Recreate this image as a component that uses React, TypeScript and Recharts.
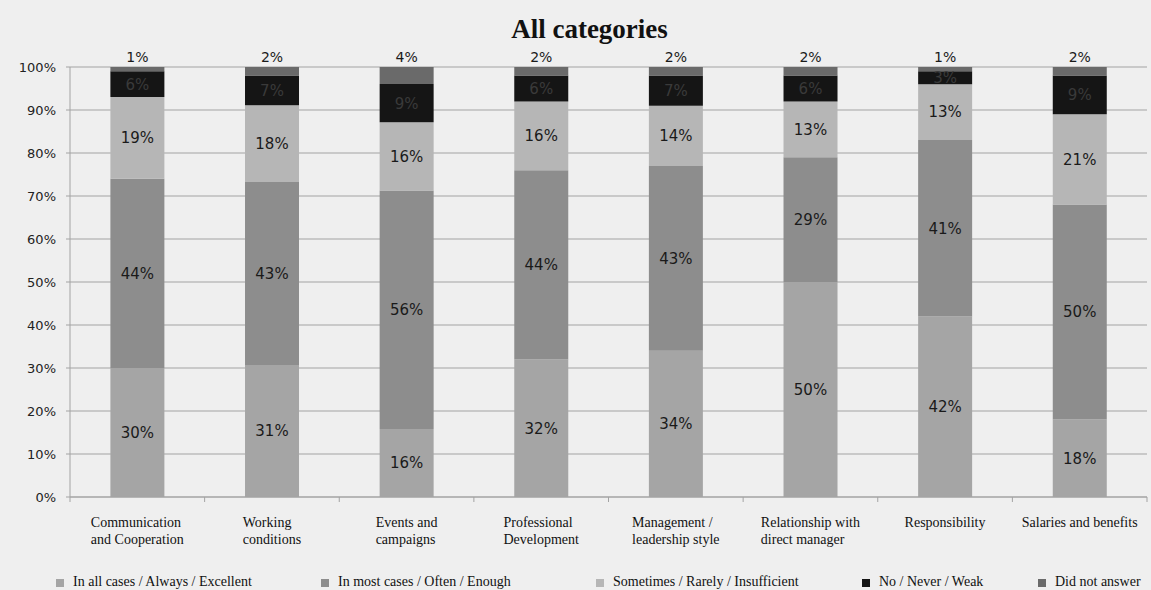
import React from 'react';
import { BarChart, Bar, XAxis, YAxis, CartesianGrid, Legend, LabelList } from 'recharts';

// Survey answers per category, in percent (Excel-style 100% stacked columns)
const categories = [
  'Communication\nand Cooperation',
  'Working\nconditions',
  'Events and\ncampaigns',
  'Professional\nDevelopment',
  'Management /\nleadership style',
  'Relationship with\ndirect manager',
  'Responsibility',
  'Salaries and benefits',
];
const excellent = [30, 31, 16, 32, 34, 50, 42, 18];
const enough = [44, 43, 56, 44, 43, 29, 41, 50];
const insufficient = [19, 18, 16, 16, 14, 13, 13, 21];
const weak = [6, 7, 9, 6, 7, 6, 3, 9];
const noAnswer = [1, 2, 4, 2, 2, 2, 1, 2];
const yTicks = [0, 0.1, 0.2, 0.3, 0.4, 0.5, 0.6, 0.7, 0.8, 0.9, 1];

const seriesInfo = [
  { key: 'excellent', name: 'In all cases / Always / Excellent', color: '#a5a5a5' },
  { key: 'enough', name: 'In most cases / Often / Enough', color: '#8d8d8d' },
  { key: 'insufficient', name: 'Sometimes / Rarely / Insufficient', color: '#b6b6b6' },
  { key: 'weak', name: 'No / Never / Weak', color: '#151515' },
  { key: 'noAnswer', name: 'Did not answer', color: '#6a6a6a' },
];
const legendX = [56, 321, 596, 862, 1038];

const chartData = categories.map((name, i) => ({
  name,
  excellent: excellent[i],
  enough: enough[i],
  insufficient: insufficient[i],
  weak: weak[i],
  noAnswer: noAnswer[i],
}));

const BG = '#efefef';
const GRID = '#a3a3a3';
const SERIF = '"Liberation Serif", "Times New Roman", serif';
const SANS = '"DejaVu Sans", sans-serif';

let measureCtx: CanvasRenderingContext2D | null = null;
const textWidth = (s: string, font: string) => {
  if (!measureCtx) measureCtx = document.createElement('canvas').getContext('2d');
  if (!measureCtx) return s.length * 7;
  measureCtx.font = font;
  return measureCtx.measureText(s).width;
};

// category label: left-aligned block centred under the column, plus divider ticks
const CategoryTick = (props: any) => {
  const { x, y, payload, index, visibleTicksCount, width } = props;
  const half = payload?.offset ?? width / (2 * visibleTicksCount);
  const lines = String(payload.value).split('\n');
  const font = `14px ${SERIF}`;
  const blockW = Math.max(...lines.map((l) => textWidth(l, font)));
  const left = x - blockW / 2;
  return (
    <g>
      <line x1={x - half} x2={x - half} y1={y} y2={y + 5} stroke={GRID} />
      {index === visibleTicksCount - 1 && (
        <line x1={x + half} x2={x + half} y1={y} y2={y + 5} stroke={GRID} />
      )}
      <text x={left} y={y + 30} fontFamily={SERIF} fontSize={14} fill="#111" textAnchor="start">
        {lines.map((l, i) => (
          <tspan key={i} x={left} dy={i === 0 ? 0 : 17}>
            {l}
          </tspan>
        ))}
      </text>
    </g>
  );
};

const LegendRow = () => (
  <div style={{ position: 'relative', height: 22, width: 1151 }}>
    {seriesInfo.map((s, i) => (
      <div
        key={s.key}
        style={{
          position: 'absolute',
          left: legendX[i],
          top: 6,
          height: 16,
          whiteSpace: 'nowrap',
          fontFamily: SERIF,
          fontSize: 14,
          lineHeight: '16px',
          color: '#111',
        }}
      >
        <span
          style={{
            position: 'absolute',
            left: 0,
            top: 5,
            width: 8,
            height: 8,
            background: s.color,
          }}
        />
        <span style={{ position: 'absolute', left: 17, top: 0 }}>{s.name}</span>
      </div>
    ))}
  </div>
);

const pct = (v: any) => `${v}%`;

export default function App() {
  return (
    <div style={{ position: 'absolute', left: 0, top: 0, width: 1151, height: 590, background: BG }}>
      <div
        style={{
          position: 'absolute',
          top: 14,
          left: 28,
          width: 1123,
          textAlign: 'center',
          fontFamily: SERIF,
          fontWeight: 'bold',
          fontSize: 27,
          lineHeight: '30px',
          color: '#111',
        }}
      >
        All categories
      </div>
      <BarChart
        width={1151}
        height={590}
        data={chartData}
        stackOffset="expand"
        barCategoryGap="30%"
        margin={{ top: 67, right: 4, left: 10, bottom: 0 }}
      >
        <CartesianGrid vertical={false} stroke={GRID} />
        <XAxis
          dataKey="name"
          interval={0}
          height={71}
          tickSize={0}
          tickMargin={0}
          tickLine={false}
          axisLine={{ stroke: GRID }}
          tick={<CategoryTick />}
        />
        <YAxis
          width={60}
          domain={[0, 1]}
          ticks={yTicks}
          tickFormatter={(v: number) => `${Math.round(v * 100)}%`}
          tickSize={4}
          tickMargin={10}
          tickLine={{ stroke: GRID }}
          axisLine={{ stroke: GRID }}
          tick={{ fill: '#222', fontSize: 13, fontFamily: SANS }}
        />
        <Legend verticalAlign="bottom" height={22} wrapperStyle={{ left: 0, bottom: 0, width: 1151 }} content={() => <LegendRow />} />
        {seriesInfo.map((s) => (
          <Bar key={s.key} dataKey={s.key} name={s.name} stackId="all" fill={s.color} isAnimationActive={false}>
            <LabelList
              dataKey={s.key}
              position={s.key === 'noAnswer' ? 'top' : 'center'}
              offset={5}
              formatter={pct}
              fill={s.key === 'weak' ? '#3a3a3a' : '#1a1a1a'}
              fontSize={s.key === 'noAnswer' ? 14 : 15}
              fontFamily={SANS}
            />
          </Bar>
        ))}
      </BarChart>
    </div>
  );
}
